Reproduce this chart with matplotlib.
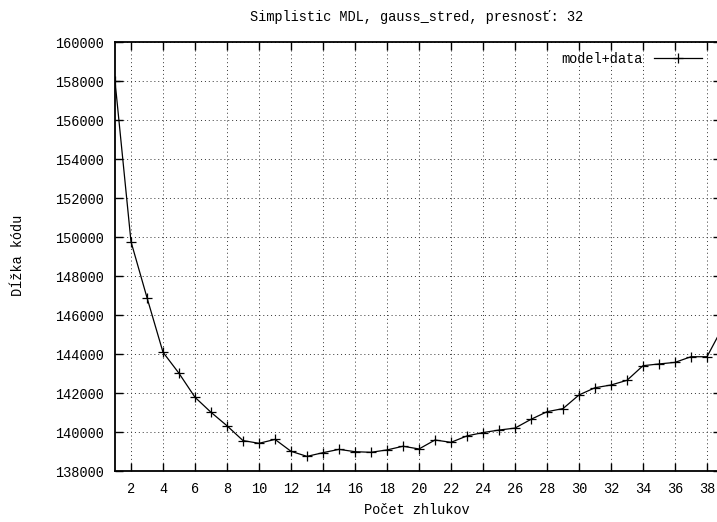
import matplotlib
matplotlib.use("Agg")
import matplotlib.pyplot as plt

clusters = list(range(1, 40))
code_length = [158000, 149760, 146890, 144090, 143010, 141780, 141010, 140320,
               139560, 139420, 139620, 139010, 138750, 138940, 139110, 138990,
               138960, 139080, 139270, 139130, 139590, 139470, 139800, 139970,
               140100, 140200, 140650, 141040, 141200, 141900, 142270, 142410,
               142650, 143400, 143490, 143570, 143860, 143860, 145400]
x_ticks = list(range(2, 40, 2))
y_ticks = list(range(138000, 160001, 2000))

title = "Simplistic MDL, gauss_stred, presnosť: 32"
xlabel = "Počet zhlukov"
ylabel = "Dĺžka kódu"
series_label = "model+data"

W, H = 717, 522
fig = plt.figure(figsize=(W / 100, H / 100), dpi=100)
plt.rcParams['font.family'] = ['Liberation Mono', 'DejaVu Sans Mono']
fs = 9.8

L, R, T, B = 115, 721, 42, 471
ax = fig.add_axes([L / W, 1 - B / H, (R - L) / W, (B - T) / H])
ax.plot(clusters, code_length, color='black', linewidth=0.9, marker='+',
        markersize=7, markeredgewidth=0.9, label=series_label, clip_on=True)

ax.set_xlim(1, 1 + (R - L) / 16)
ax.set_ylim(138000, 160000)
ax.set_xticks(x_ticks)
ax.set_yticks(y_ticks)
ax.set_xticklabels([str(v) for v in x_ticks], fontsize=fs)
ax.set_yticklabels([str(v) for v in y_ticks], fontsize=fs)
ax.tick_params(direction='in', top=True, right=True, length=6, width=1.0,
               pad=8, colors='black')
ax.grid(True, color='#333333', linestyle=(0, (1, 3)), linewidth=0.7)
for s in ax.spines.values():
    s.set_linewidth(1.3)

fig.text(417 / W, 1 - 17 / H, title, ha='center', va='center', fontsize=fs)
fig.text(417 / W, 1 - 510 / H, xlabel, ha='center', va='center', fontsize=fs)
fig.text(18 / W, 1 - 255 / H, ylabel, ha='center', va='center', fontsize=fs,
         rotation=90)

leg = ax.legend(loc='center right', bbox_to_anchor=(702 / W, 1 - 59 / H),
                bbox_transform=fig.transFigure, frameon=False, markerfirst=False,
                handlelength=3.5, handletextpad=0.9, borderpad=0,
                borderaxespad=0, fontsize=fs, numpoints=1)

fig.savefig("out.png", dpi=100)
